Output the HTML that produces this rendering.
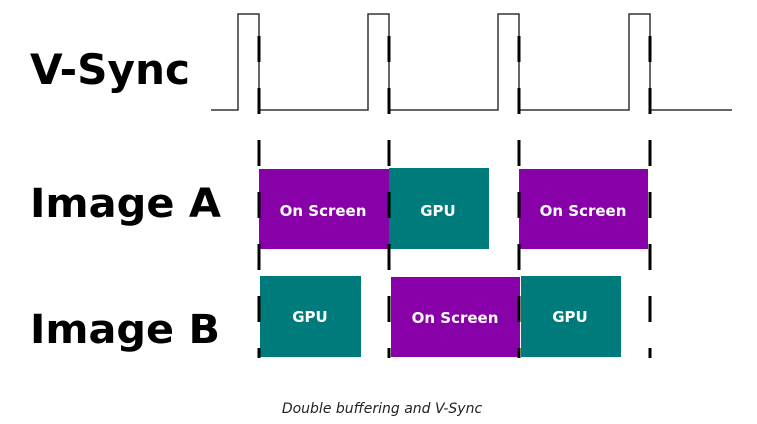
<!DOCTYPE html>
<html><head><style>
html,body{margin:0;padding:0;background:#fff;}
svg{display:block;}
.lab{font-family:"DejaVu Sans","Liberation Sans",sans-serif;font-weight:bold;fill:#000;}
.bt{font-family:"DejaVu Sans","Liberation Sans",sans-serif;font-weight:bold;fill:#fff;font-size:15px;text-anchor:middle;}
</style></head><body>
<svg width="757" height="424" viewBox="0 0 757 424" xmlns="http://www.w3.org/2000/svg">
<text class="lab" x="30" y="84" font-size="42" textLength="160" lengthAdjust="spacingAndGlyphs">V-Sync</text>
<text class="lab" x="30" y="217" font-size="40" textLength="191" lengthAdjust="spacingAndGlyphs">Image A</text>
<text class="lab" x="30" y="343" font-size="40" textLength="190" lengthAdjust="spacingAndGlyphs">Image B</text>
<polyline fill="none" stroke="#333" stroke-width="1.5" points="211,110 238,110 238,14 259,14 259,110 368,110 368,14 389,14 389,110 498,110 498,14 519,14 519,110 629,110 629,14 650,14 650,110 732,110"/>
<rect x="259" y="169" width="130" height="80" fill="#8800a8"/>
<rect x="389" y="168" width="100" height="81" fill="#007b7b"/>
<rect x="519" y="169" width="129" height="80" fill="#8800a8"/>
<rect x="260" y="276" width="101" height="81" fill="#007b7b"/>
<rect x="391" y="277" width="129" height="80" fill="#8800a8"/>
<rect x="521" y="276" width="100" height="81" fill="#007b7b"/>
<g stroke="#000" stroke-width="3" stroke-dasharray="26,26" stroke-dashoffset="30">
<line x1="259" y1="14" x2="259" y2="358"/>
<line x1="389" y1="14" x2="389" y2="358"/>
<line x1="519" y1="14" x2="519" y2="358"/>
<line x1="650" y1="14" x2="650" y2="358"/>
</g>
<text class="bt" x="323" y="216">On Screen</text>
<text class="bt" x="438" y="216">GPU</text>
<text class="bt" x="583" y="216">On Screen</text>
<text class="bt" x="310" y="322">GPU</text>
<text class="bt" x="455" y="323">On Screen</text>
<text class="bt" x="570" y="322">GPU</text>
<text x="382" y="413" font-family="'DejaVu Sans','Liberation Sans',sans-serif" font-style="italic" font-size="14" text-anchor="middle" fill="#222">Double buffering and V-Sync</text>
</svg>
</body></html>
